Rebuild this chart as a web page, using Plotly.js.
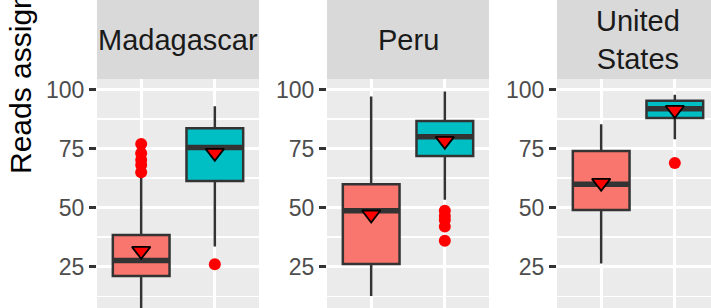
<!DOCTYPE html>
<html><head><meta charset="utf-8">
<script src="https://cdn.plot.ly/plotly-3.0.1.min.js"></script>
<style>html,body{margin:0;padding:0;overflow:hidden;background:#fff}#chart{width:711px;height:308px}</style>
</head><body><div id="chart"></div>
<script>
// ---- data ----
const facets = ["Madagascar", "Peru", "United States"];
const facetLabels = ["Madagascar", "Peru", "United<br>States"];
const groups = ["Group 1", "Group 2"];
const yTickStep = 25;

// group 1 (salmon boxes)
const low1  = [0.5, 12.6, 26.4];
const q1_1  = [21.1, 26.1, 49.0];
const med1  = [27.6, 48.7, 59.9];
const q3_1  = [38.4, 59.9, 74.0];
const high1 = [64.7, 97.1, 85.3];
const mean1 = [31.7, 47.1, 60.5];
const out1  = [[77.0, 73.1, 70.2, 68.1, 65.0], [], []];

// group 2 (teal boxes)
const low2  = [33.5, 53.3, 79.0];
const q1_2  = [61.3, 71.9, 88.0];
const med2  = [75.5, 80.0, 91.9];
const q3_2  = [83.6, 86.7, 95.3];
const high2 = [93.0, 99.2, 97.8];
const mean2 = [73.2, 78.3, 91.4];
const out2  = [[26.0], [48.7, 46.5, 44.8, 42.0, 36.0], [68.9]];

// ---- geometry / style ----
const W = 711, H = 308;
const panelLeft = [97, 327, 557], panelW = 162, stripBottom = 79;
const unitPx = panelW / 2.2;
const FONT = "Liberation Sans, Arial, sans-serif";
const fills = ["#F8766D", "#00BFC4"];

const stats = [
  {low: low1, q1: q1_1, med: med1, q3: q3_1, high: high1, mean: mean1, out: out1},
  {low: low2, q1: q1_2, med: med2, q3: q3_2, high: high2, mean: mean2, out: out2}
];

const traces = [];
const layout = {
  width: W, height: H,
  margin: {l: 0, r: 0, t: 0, b: 0, pad: 0},
  paper_bgcolor: "#FFFFFF", plot_bgcolor: "#EBEBEB",
  showlegend: false, hovermode: false,
  font: {family: FONT},
  shapes: [], annotations: []
};

facets.forEach((f, i) => {
  const ax = i === 0 ? "" : String(i + 1);
  const right = Math.min(panelLeft[i] + panelW, W);
  const xd = [panelLeft[i] / W, right / W];
  const yTop = (H - stripBottom) / H;
  layout["xaxis" + ax] = {
    domain: xd, range: [-0.6, -0.6 + (right - panelLeft[i]) / unitPx],
    type: "category", categoryorder: "array", categoryarray: groups,
    showticklabels: false, ticks: "", showgrid: true, gridcolor: "#FFFFFF", gridwidth: 2.7,
    zeroline: false, showline: false, anchor: "y" + ax, fixedrange: true
  };
  layout["yaxis" + ax] = {
    domain: [0, yTop], range: [7.5, 104.5], tickmode: "linear", tick0: 0, dtick: yTickStep,
    ticks: "outside", ticklen: 7, tickwidth: 2.5, tickcolor: "#333333",
    tickfont: {size: 23, color: "#4D4D4D", family: FONT},
    showgrid: true, gridcolor: "#FFFFFF", gridwidth: 2.7,
    minor: {dtick: yTickStep / 2, tick0: 0, showgrid: true, gridcolor: "#FFFFFF", gridwidth: 1.4, ticks: ""},
    zeroline: false, showline: false, anchor: "x" + ax, fixedrange: true
  };
  layout.shapes.push({type: "rect", xref: "paper", yref: "paper", x0: xd[0], x1: xd[1], y0: yTop, y1: 1,
    fillcolor: "#D9D9D9", line: {width: 0}, layer: "below"});
  layout.annotations.push({text: facetLabels[i], xref: "paper", yref: "paper",
    x: (panelLeft[i] + panelW / 2) / W, y: (H - 39.5) / H, xanchor: "center", yanchor: "middle",
    showarrow: false, font: {size: 29, color: "#1A1A1A", family: FONT}});

  stats.forEach((s, g) => {
    traces.push({type: "box", x: [groups[g]], q1: [s.q1[i]], median: [s.med[i]], q3: [s.q3[i]],
      lowerfence: [s.low[i]], upperfence: [s.high[i]], xaxis: "x" + ax, yaxis: "y" + ax,
      fillcolor: fills[g], line: {color: "#333333", width: 2.5}, whiskerwidth: 0, width: 0.77,
      boxpoints: false, hoverinfo: "skip"});
    // thick median bar
    traces.push({type: "box", x: [groups[g]], q1: [s.med[i]], median: [s.med[i]], q3: [s.med[i]],
      lowerfence: [s.med[i]], upperfence: [s.med[i]], xaxis: "x" + ax, yaxis: "y" + ax,
      fillcolor: "rgba(0,0,0,0)", line: {color: "#333333", width: 5.5}, whiskerwidth: 0, width: 0.77,
      boxpoints: false, hoverinfo: "skip"});
  });
  stats.forEach((s, g) => {
    if (s.out[i].length) {
      traces.push({type: "scatter", mode: "markers", x: s.out[i].map(() => groups[g]), y: s.out[i],
        xaxis: "x" + ax, yaxis: "y" + ax, marker: {color: "#FF0000", size: 12}, hoverinfo: "skip"});
    }
  });
  traces.push({type: "scatter", mode: "markers", x: groups, y: [stats[0].mean[i], stats[1].mean[i]],
    xaxis: "x" + ax, yaxis: "y" + ax,
    marker: {symbol: "triangle-down", size: 16, color: "#FF0000", line: {color: "#000000", width: 1.8}},
    hoverinfo: "skip"});
});

layout.annotations.push({text: "Reads assigned (%)", textangle: -90, xref: "paper", yref: "paper",
  x: 20 / W, y: (H - 176) / H, xanchor: "center", yanchor: "bottom", showarrow: false,
  font: {size: 30, color: "#000000", family: FONT}});

Plotly.newPlot("chart", traces, layout, {staticPlot: true, displayModeBar: false});
</script></body></html>
